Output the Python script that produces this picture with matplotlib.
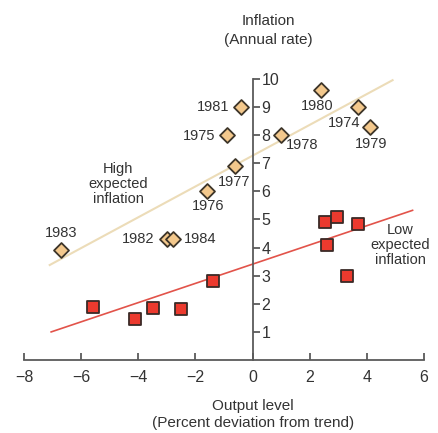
import matplotlib
matplotlib.use("Agg")
import matplotlib.pyplot as plt
import numpy as np

plt.rcParams['font.family'] = ['Liberation Sans', 'DejaVu Sans']

# High expected inflation (diamonds)
high_years = ["1974", "1975", "1976", "1977", "1978", "1979", "1980", "1981", "1982", "1983", "1984"]
high_x = [3.7, -0.9, -1.6, -0.6, 1.0, 4.1, 2.4, -0.4, -3.0, -6.7, -2.8]
high_y = [9.0, 8.0, 6.0, 6.9, 8.0, 8.3, 9.6, 9.0, 4.3, 3.9, 4.3]

# Low expected inflation (squares)
low_x = [-5.6, -4.1, -3.5, -2.5, -1.4, 2.55, 2.95, 3.7, 2.6, 3.3]
low_y = [1.9, 1.45, 1.85, 1.8, 2.8, 4.9, 5.1, 4.85, 4.1, 3.0]

# Trend lines: (x_start, x_end), intercept, slope
high_line_x = [-7.1, 4.9]
high_line_b, high_line_m = 7.27, 0.548
low_line_x = [-7.05, 5.6]
low_line_b, low_line_m = 3.41, 0.342

xticks = [-8, -6, -4, -2, 0, 2, 4, 6]
yticks = [1, 2, 3, 4, 5, 6, 7, 8, 9, 10]

W, H = 438, 433
fig = plt.figure(figsize=(W / 100, H / 100), dpi=100)
ax = fig.add_axes([24 / W, (H - 360) / H, 400 / W, 289.5 / H])
ax.set_xlim(-8, 6)
ax.set_ylim(0, 10.3)
ax.patch.set_visible(False)

axis_color = "#5a5a5a"
for s in ["top", "left"]:
    ax.spines[s].set_visible(False)
ax.spines["bottom"].set_position(("data", 0))
ax.spines["right"].set_position(("data", 0))
ax.spines["right"].set_bounds(0, 10)
for s in ["bottom", "right"]:
    ax.spines[s].set_color(axis_color)
    ax.spines[s].set_linewidth(1.3)

ax.yaxis.tick_right()
ax.set_xticks(xticks)
ax.set_xticklabels([str(t).replace("-", "\u2212") for t in xticks])
ax.set_yticks(yticks)
ax.tick_params(axis="x", direction="in", length=5, width=1.3, color=axis_color,
               labelsize=11.5, labelcolor="#333333", pad=7)
ax.tick_params(axis="y", direction="out", length=5, width=1.3, color=axis_color,
               labelsize=11.5, labelcolor="#333333", pad=1.5)

# Lines
hx = np.array(high_line_x)
ax.plot(hx, high_line_b + high_line_m * hx, color="#ecdcb8", lw=1.5, zorder=2)
lx = np.array(low_line_x)
ax.plot(lx, low_line_b + low_line_m * lx, color="#e2534a", lw=1.2, zorder=2)

# Markers
ax.scatter(high_x, high_y, marker="D", s=58, facecolor="#f3c88c",
           edgecolor="#3d3529", linewidth=1.3, zorder=3)
ax.scatter(low_x, low_y, marker="s", s=80, facecolor="#ec3a2e",
           edgecolor="#3a2a26", linewidth=1.3, zorder=3)

# Year labels: (dx, dy, ha) in pixels
offsets = {
    "1974": (-14, -16, "center"),
    "1975": (-11, -1, "right"),
    "1976": (1, -15, "center"),
    "1977": (-1, -16, "center"),
    "1978": (21, -10, "center"),
    "1979": (1, -17, "center"),
    "1980": (-4, -16, "center"),
    "1981": (-12, 0, "right"),
    "1982": (-12, 0, "right"),
    "1983": (0, 17, "center"),
    "1984": (11, 0, "left"),
}
for yr, x, y in zip(high_years, high_x, high_y):
    dx, dy, ha = offsets[yr]
    ax.annotate(yr, (x, y), xytext=(dx, dy), textcoords="offset pixels",
                ha=ha, va="center", fontsize=10.5, color="#333333")

side = dict(fontsize=10.5, color="#333333", ha="center", va="center", linespacing=1.05)
txt = dict(fontsize=11, color="#333333", ha="center", va="center")
fig.text(118 / W, 1 - 184 / H, "High\nexpected\ninflation", **side)
fig.text(400 / W, 1 - 245 / H, "Low\nexpected\ninflation", **side)
fig.text(268 / W, 1 - 21 / H, "Inflation", **txt)
fig.text(268 / W, 1 - 40 / H, "(Annual rate)", **txt)
fig.text(253 / W, 1 - 406 / H, "Output level", **txt)
fig.text(253 / W, 1 - 423 / H, "(Percent deviation from trend)", **txt)

fig.savefig("out.png", dpi=100)
